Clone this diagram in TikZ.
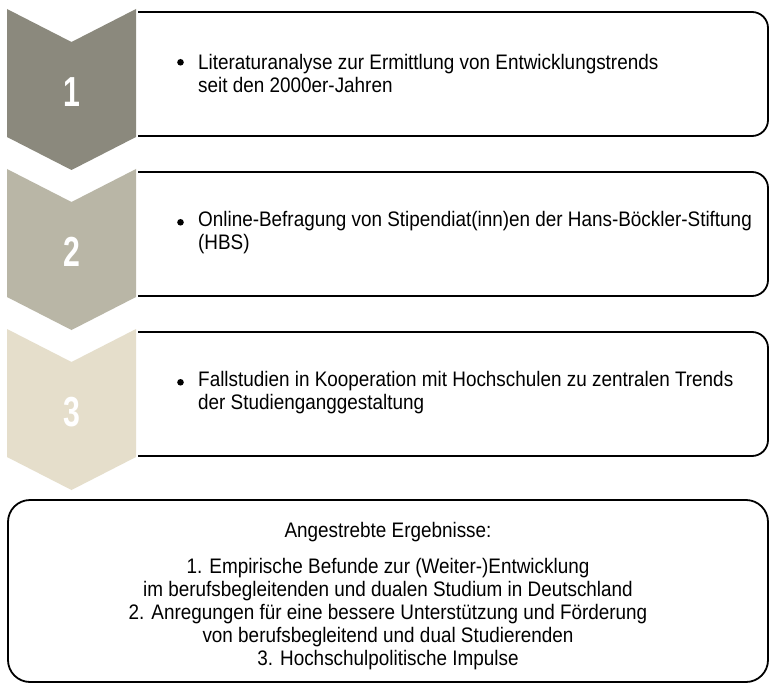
\documentclass[tikz,border=0pt]{standalone}
\usepackage{fontspec}
\setmainfont[FakeStretch=0.9]{Liberation Sans}
\newfontfamily\numfont[FakeStretch=0.72]{Liberation Sans}
\definecolor{chevA}{RGB}{139,137,125}
\definecolor{chevB}{RGB}{185,182,166}
\definecolor{chevC}{RGB}{229,222,203}
\begin{document}
\begin{tikzpicture}[x=1pt,y=-1pt,
  boxline/.style={line width=1.8pt, black},
  num/.style={text=white, font=\numfont\bfseries\fontsize{42}{44}\selectfont},
  txt/.style={font=\fontsize{21}{23}\selectfont, inner sep=0pt, align=left},
  bul/.style={fill=black}]
\useasboundingbox[fill=white] (0,0) rectangle (770,684);

% step boxes (open on the left), chevrons and bullets
\foreach \i/\c/\n/\dy in {1/chevA/1/0, 2/chevB/2/160, 3/chevC/3/320}{
  \begin{scope}[yshift=-\dy pt]
    \draw[boxline, rounded corners=16pt] (138,12) -- (768,12) -- (768,136) -- (138,136);
    \fill[\c] (7,9) -- (71.5,42) -- (136,9) -- (136,137) -- (71.5,170) -- (7,137) -- cycle;
    \node[num] (n\i) at (71.5,92) {\n};
    \fill[bul] (180.5,62.3) circle (3.3pt);
  \end{scope}
}

\node[txt, anchor=west] (t1) at (198,73) {Literaturanalyse zur Ermittlung von Entwicklungstrends\\seit den 2000er-Jahren};
\node[txt, anchor=west] (t2) at (198,233) {Online-Befragung von Stipendiat(inn)en der Hans-Böckler-Stiftung\\(HBS)};
\node[txt, anchor=west] (t3) at (198,393) {Fallstudien in Kooperation mit Hochschulen zu zentralen Trends\\der Studienganggestaltung};

% result box
\draw[boxline, rounded corners=22pt] (8,500) rectangle (768,682);
\node[txt, align=center] (res) at (388,596) {Angestrebte Ergebnisse:\\[13pt]
1. Empirische Befunde zur (Weiter-)Entwicklung\\
im berufsbegleitenden und dualen Studium in Deutschland\\
2. Anregungen für eine bessere Unterstützung und Förderung\\
von berufsbegleitend und dual Studierenden\\
3. Hochschulpolitische Impulse};
\end{tikzpicture}
\end{document}
